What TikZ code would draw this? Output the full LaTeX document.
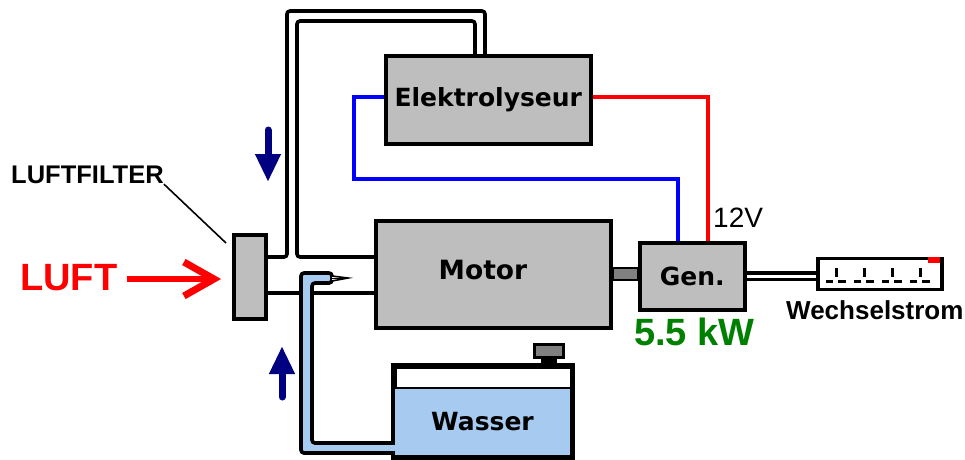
\documentclass[tikz,border=0pt]{standalone}
\usepackage{fontspec}
\setmainfont{DejaVu Sans}
\newfontfamily\arialfont{Liberation Sans}
\usetikzlibrary{arrows.meta,positioning}
\definecolor{boxfill}{RGB}{190,190,190}
\definecolor{waterfill}{RGB}{166,202,240}
\definecolor{capfill}{RGB}{128,128,128}
\definecolor{flowblue}{RGB}{0,0,128}
\definecolor{genpower}{RGB}{0,128,0}
\tikzset{
  unit/.style     ={draw, line width=3.6pt, fill=boxfill, inner sep=0pt, anchor=north west, align=center, font=\fontsize{25}{27}\selectfont\bfseries},
  pipe/.style     ={line width=3.6pt, rounded corners=3pt},
  thinpipe/.style ={line width=1.6pt},
  wire/.style     ={line width=3.6pt},
  flowarrow/.style={flowblue, line width=7pt, line cap=round, -{Triangle[length=28pt,width=24pt]}},
  lbl/.style      ={inner sep=0pt, anchor=west}
}
\begin{document}
\begin{tikzpicture}[x=1pt,y=-1pt]
  \useasboundingbox (0,0) rectangle (965,459);
  % water pipe and tank come first, the boxes sit on top
  \node[unit, fill=white, minimum width=177pt, minimum height=90pt] (tank) at (393,365) {};
  \node[draw, line width=2pt, fill=waterfill, minimum width=177pt, minimum height=68pt, inner sep=0pt, anchor=north west,
        font=\fontsize{25}{27}\selectfont\bfseries] (water) at (393,387) {Wasser};
  \draw[line width=3.6pt] (tank.north west) -- (tank.south west) -- (tank.south east) -- (tank.north east) -- cycle;
  \node[draw, line width=3.6pt, fill=capfill, minimum width=29pt, minimum height=13pt, inner sep=0pt] (cap) at (549,351) {};
  \fill (541,357) rectangle (557,364);
  \node[unit, minimum width=205pt, minimum height=88pt] (elektro) at (384,54) {Elektrolyseur};
  \node[unit, minimum width=235pt, minimum height=107pt] (motor) at (374,219) {};
  \node[font=\fontsize{26.5}{28}\selectfont\bfseries, inner sep=0pt] (motorlbl) at (483,270) {Motor};
  \node[unit, minimum width=105pt, minimum height=67pt] (gen) at (638,241) {Gen.};
  \node[unit, minimum width=32pt, minimum height=84pt] (filter) at (232,233) {};
  \node[draw, line width=3.4pt, fill=white, minimum width=124pt, minimum height=31pt, inner sep=0pt] (socket) at (880,274) {};
  % air ducts
  \draw[pipe] (filter.east |- 0,257) -- (287,257) -- (287,11) -- (485,11) -- (485,0 |- elektro.north);
  \draw[pipe] (motor.west |- 0,257) -- (297,257) -- (297,21) -- (475,21) -- (475,0 |- elektro.north);
  \draw[line width=3.4pt] (filter.east |- 0,293) -- (301,293);
  \draw[line width=3.4pt] (motor.west |- 0,293) -- (312,293);
  % water feed
  \draw[line width=3.6pt, fill=waterfill, rounded corners=3pt]
    (tank.west |- 0,443) -- (312,443) -- (312,283) -- (332,283) -- (332,273) -- (301,273) -- (301,453) -- (tank.west |- 0,453);
  \fill[waterfill] (390,445) rectangle (396,451);
  \draw[thinpipe, fill=white] (332,276) -- (348,278) -- (332,281);
  \draw[line width=1pt] (332,278) -- (348,278);
  % leads
  \draw[wire, blue] (elektro.west |- 0,97) -- (354,97) -- (354,179) -- (678,179) -- (678,0 |- gen.north);
  \draw[wire, red] (elektro.east |- 0,97) -- (708,97) -- (708,0 |- gen.north);
  % shaft
  \draw[line width=2pt, fill=capfill] (motor.east |- 0,268) rectangle (gen.west |- 0,280);
  % output line
  \draw[line width=3.2pt] (gen.east |- 0,273) -- (socket.west |- 0,273);
  \draw[line width=3.2pt] (gen.east |- 0,279.5) -- (socket.west |- 0,279.5);
  % socket outlets
  \fill[red] (928,256.5) rectangle (940,263);
  \foreach \xc in {836,864,892,920} {
    \draw[line width=3pt] (\xc,268) -- (\xc,277);
    \draw[line width=3pt] (\xc-10,281.5) -- (\xc-3,281.5);
    \draw[line width=3pt] (\xc+2,281.5) -- (\xc+10,281.5);
  }
  % flow direction arrows
  \coordinate (downstart) at (268,130);
  \coordinate (downend) at (268,182);
  \coordinate (upstart) at (282,397);
  \coordinate (upend) at (282,346);
  \draw[flowarrow] (downstart) -- (downend);
  \draw[flowarrow] (upstart) -- (upend);
  % air inlet
  \coordinate (airstart) at (127,279);
  \coordinate (airend) at (221,279);
  \draw[red, line width=6.5pt, -{Straight Barb[length=30pt,width=34pt,line width=7pt]}] (airstart) -- (airend);
  \node[lbl, font=\arialfont\fontsize{38}{40}\selectfont\bfseries, text=red] (luft) at (20,278) {LUFT};
  \node[lbl, font=\arialfont\fontsize{25.5}{27}\selectfont\bfseries] (filterlbl) at (11,175) {LUFTFILTER};
  \coordinate (filterend) at (226,243);
  \draw[line width=1.6pt] (filterlbl.south east) -- (filterend);
  % labels
  \node[lbl, font=\arialfont\fontsize{28}{30}\selectfont] (volt) at (713,218) {12V};
  \node[lbl, font=\arialfont\fontsize{38}{40}\selectfont\bfseries, text=genpower] (kw) at (634,332) {5.5 kW};
  \node[lbl, font=\arialfont\fontsize{26}{28}\selectfont\bfseries] (ac) at (786,310) {Wechselstrom};
\end{tikzpicture}
\end{document}
